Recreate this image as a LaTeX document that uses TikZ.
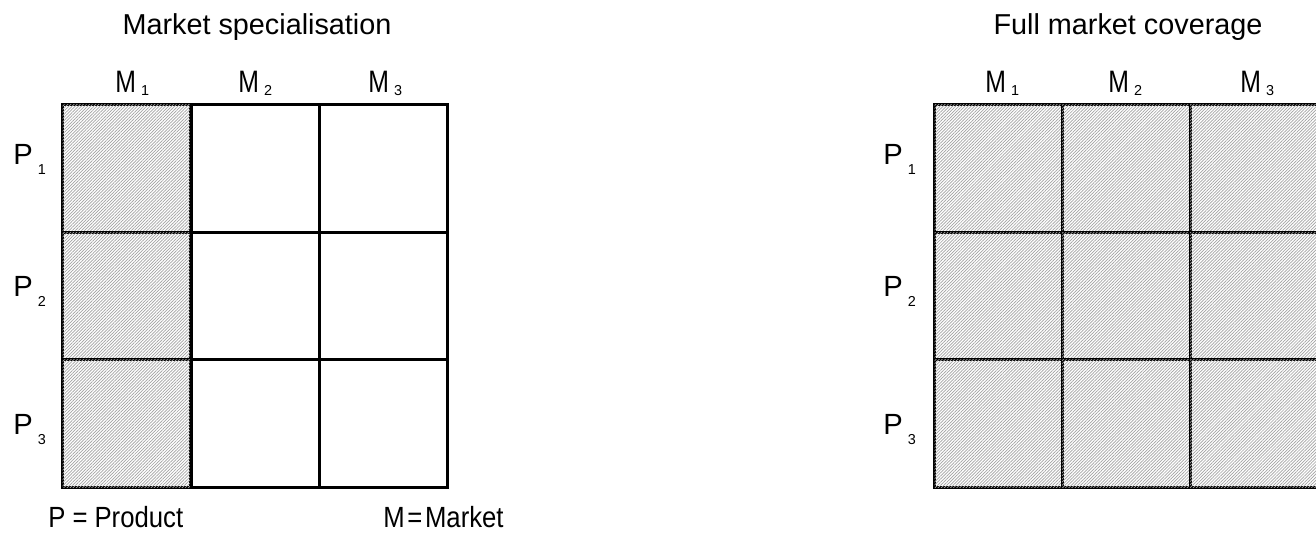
\documentclass[tikz,border=0pt]{standalone}
\usepackage{fontspec}
\setmainfont{Liberation Sans}
\usetikzlibrary{patterns.meta}
\newcommand\msub[2]{\scalebox{0.8}[1]{\fontsize{15.5}{17}\selectfont #1}\kern2.5pt\raisebox{-1.2pt}{\fontsize{7.2}{8}\selectfont #2}}
\newcommand\psub[2]{#1\kern2.5pt\raisebox{-5pt}{\fontsize{7.2}{8}\selectfont #2}}
\begin{document}
\begin{tikzpicture}[x=0.5pt,y=-0.5pt,
  cell/.style={draw=black,line width=1.5pt,minimum width=64pt,minimum height=64pt,inner sep=0pt,outer sep=0pt},
  hatched/.style={cell,fill=white,postaction={pattern={Lines[angle=45,distance=1.1pt,line width=0.35pt]},pattern color=black!36}},
  plain/.style={cell,fill=white},
  lab/.style={anchor=base west,inner sep=0pt,font=\fontsize{14.6}{16}\selectfont},
  ttl/.style={anchor=base,inner sep=0pt,font=\fontsize{14.4}{16}\selectfont}]
\useasboundingbox (0,0) rectangle (1316,533);
% left grid
\node[hatched] (L11) at (126.5,168.5) {};
\node[plain]   (L12) at (255,168.5) {};
\node[plain]   (L13) at (383,168.5) {};
\node[hatched] (L21) at (126.5,296.5) {};
\node[plain]   (L22) at (255,296.5) {};
\node[plain]   (L23) at (383,296.5) {};
\node[hatched] (L31) at (126.5,423.5) {};
\node[plain]   (L32) at (255,423.5) {};
\node[plain]   (L33) at (383,423.5) {};
% right grid
\node[hatched] (R11) at (998.5,168.5) {};
\node[hatched] (R12) at (1126,168.5) {};
\node[hatched] (R13) at (1254,168.5) {};
\node[hatched] (R21) at (998.5,296.5) {};
\node[hatched] (R22) at (1126,296.5) {};
\node[hatched] (R23) at (1254,296.5) {};
\node[hatched] (R31) at (998.5,423.5) {};
\node[hatched] (R32) at (1126,423.5) {};
\node[hatched] (R33) at (1254,423.5) {};
% titles
\node[ttl] (tL) at (257,35) {Market specialisation};
\node[ttl] (tR) at (1128,35) {Full market coverage};
% column labels
\node[lab] (lM1) at (115,93) {\msub{M}{1}};
\node[lab] (lM2) at (238,93) {\msub{M}{2}};
\node[lab] (lM3) at (368,93) {\msub{M}{3}};
\node[lab] (rM1) at (985,93) {\msub{M}{1}};
\node[lab] (rM2) at (1108,93) {\msub{M}{2}};
\node[lab] (rM3) at (1240,93) {\msub{M}{3}};
% row labels
\node[lab] (lP1) at (13,165) {\psub{P}{1}};
\node[lab] (lP2) at (13,297) {\psub{P}{2}};
\node[lab] (lP3) at (13,435) {\psub{P}{3}};
\node[lab] (rP1) at (883,165) {\psub{P}{1}};
\node[lab] (rP2) at (883,297) {\psub{P}{2}};
\node[lab] (rP3) at (883,435) {\psub{P}{3}};
% legend
\node[lab] (legP) at (48,528) {\scalebox{0.88}[1]{P\kern4pt=\kern4pt Product}};
\node[lab] (legM) at (383,528) {\scalebox{0.88}[1]{M\kern1.5pt=\kern1.5pt Market}};
\end{tikzpicture}
\end{document}
